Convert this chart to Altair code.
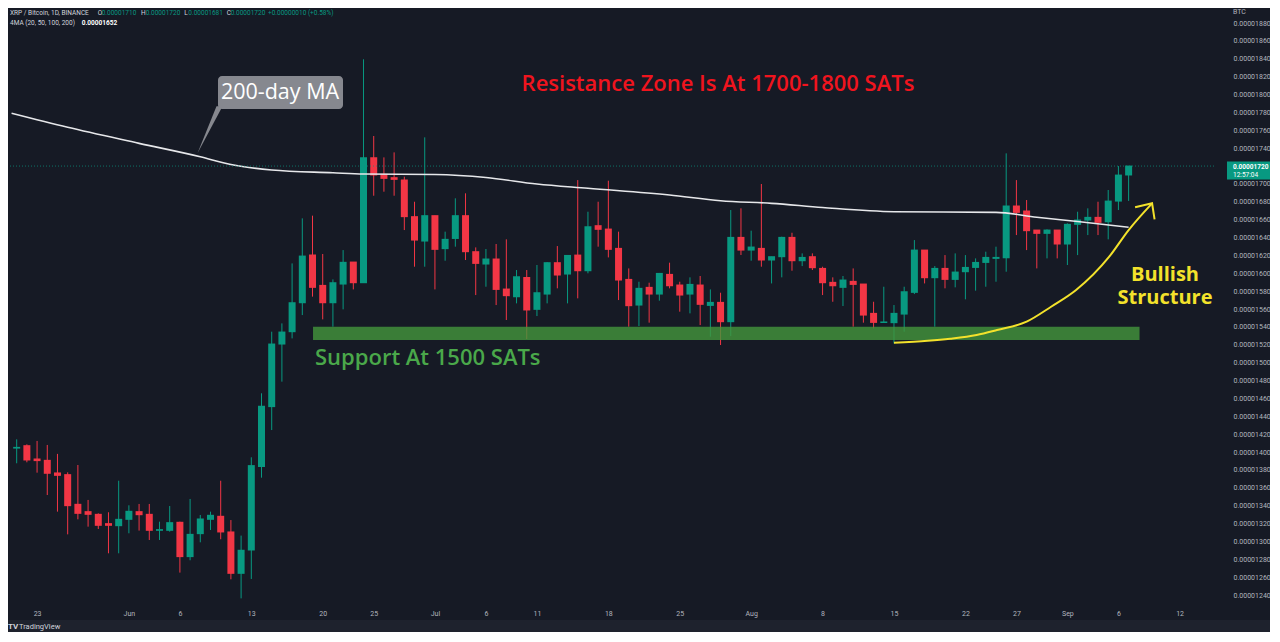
import altair as alt
import pandas as pd

# ---------------- data (sats = 1e-8 BTC) ----------------
START = "2022-05-21"

opens = [1404.5, 1407.2, 1392.3, 1390.8, 1376.7, 1374.8, 1341.6, 1333.4, 1330.4, 1320.0,
         1317.7, 1324.8, 1333.4, 1330.4, 1312.5, 1312.5, 1321.5, 1283.1, 1308.8, 1324.8,
         1328.2, 1310.7, 1264.4, 1290.5, 1383.8, 1450.9, 1520.9, 1534.7, 1567.1, 1620.5,
         1586.5, 1567.1, 1588.0, 1612.6, 1589.5, 1729.3, 1710.7, 1707.0, 1704.4, 1663.4,
         1636.1, 1664.5, 1627.6, 1639.0, 1664.5, 1624.2, 1610.4, 1616.0, 1582.4, 1573.9,
         1595.3, 1559.7, 1576.8, 1611.9, 1599.2, 1620.4, 1602.9, 1653.3, 1649.5, 1627.9,
         1593.2, 1564.5, 1584.3, 1576.8, 1598.8, 1586.9, 1576.8, 1586.9, 1564.1, 1567.5,
         1545.9, 1640.2, 1626.0, 1627.9, 1614.9, 1618.6, 1640.2, 1614.1, 1618.6, 1605.5,
         1589.9, 1584.3, 1591.0, 1588.0, 1555.2, 1545.0, 1544.8, 1554.4, 1578.7, 1626.0,
         1595.1, 1605.5, 1593.2, 1601.8, 1606.6, 1612.2, 1616.7, 1617.4, 1675.3, 1669.7,
         1648.4, 1644.7, 1648.4, 1632.8, 1654.8, 1659.6, 1662.6, 1657.7, 1680.8, 1710.0]

highs = [1414.3, 1408.7, 1412.5, 1408.0, 1398.0, 1377.4, 1385.6, 1346.5, 1331.5, 1332.7,
         1368.0, 1340.5, 1342.0, 1342.0, 1322.2, 1339.7, 1322.2, 1347.6, 1329.7, 1333.4,
         1368.0, 1324.0, 1306.6, 1394.2, 1465.8, 1534.7, 1544.0, 1611.1, 1661.5, 1664.5,
         1621.6, 1593.2, 1626.0, 1612.6, 1839.4, 1753.6, 1729.7, 1735.3, 1708.1, 1680.1,
         1752.1, 1664.5, 1646.6, 1683.9, 1689.5, 1629.0, 1627.2, 1632.8, 1638.0, 1603.7,
         1603.7, 1609.3, 1612.5, 1630.5, 1620.4, 1704.3, 1668.9, 1680.1, 1703.6, 1646.6,
         1605.5, 1590.6, 1589.5, 1600.4, 1611.9, 1590.6, 1595.5, 1597.0, 1582.0, 1578.3,
         1670.8, 1672.7, 1647.7, 1699.9, 1618.6, 1641.0, 1645.4, 1622.3, 1622.3, 1607.4,
         1595.5, 1597.0, 1605.5, 1588.0, 1568.2, 1585.0, 1564.5, 1585.0, 1637.2, 1626.0,
         1608.1, 1620.4, 1622.3, 1620.4, 1616.7, 1624.2, 1629.8, 1734.2, 1704.3, 1682.0,
         1648.4, 1649.2, 1648.4, 1655.9, 1668.9, 1672.7, 1680.1, 1693.2, 1720.0, 1720.0]

lows = [1387.5, 1388.6, 1377.0, 1352.0, 1333.4, 1308.0, 1324.8, 1316.6, 1314.0, 1286.8,
        1286.8, 1309.2, 1312.2, 1301.7, 1301.7, 1311.0, 1265.2, 1279.0, 1299.1, 1312.9,
        1302.5, 1257.7, 1236.4, 1258.1, 1371.4, 1424.7, 1478.8, 1527.2, 1553.3, 1573.9,
        1548.5, 1540.3, 1559.7, 1582.0, 1589.5, 1686.8, 1691.3, 1686.8, 1648.4, 1607.4,
        1607.4, 1582.0, 1614.1, 1629.8, 1614.9, 1575.7, 1585.0, 1564.5, 1547.8, 1566.4,
        1526.5, 1552.2, 1566.4, 1583.2, 1566.4, 1572.0, 1600.0, 1629.8, 1617.8, 1570.1,
        1540.3, 1541.0, 1544.8, 1569.4, 1583.2, 1557.1, 1555.2, 1542.1, 1529.1, 1519.8,
        1529.8, 1620.5, 1614.1, 1607.4, 1588.7, 1595.5, 1602.9, 1608.1, 1603.7, 1575.7,
        1568.2, 1563.4, 1540.3, 1544.8, 1538.4, 1544.8, 1521.6, 1534.7, 1576.8, 1588.7,
        1540.3, 1583.2, 1584.3, 1570.9, 1580.6, 1585.0, 1590.6, 1601.8, 1642.8, 1626.0,
        1605.5, 1616.7, 1616.7, 1609.3, 1620.4, 1642.8, 1642.8, 1638.0, 1670.8, 1681.0]

closes = [1405.3, 1391.2, 1390.5, 1376.3, 1374.0, 1340.1, 1331.5, 1330.4, 1318.1, 1318.1,
          1324.8, 1333.8, 1330.0, 1312.5, 1313.3, 1321.1, 1283.1, 1308.0, 1325.2, 1329.3,
          1310.7, 1264.4, 1290.2, 1384.9, 1451.2, 1520.9, 1534.3, 1567.1, 1619.3, 1584.3,
          1567.1, 1589.5, 1612.3, 1589.5, 1729.3, 1710.0, 1706.2, 1705.1, 1663.4, 1637.2,
          1664.5, 1626.8, 1638.0, 1664.5, 1624.2, 1611.1, 1616.0, 1582.0, 1575.0, 1596.2,
          1559.0, 1578.3, 1611.9, 1598.1, 1620.0, 1602.9, 1652.1, 1649.2, 1626.8, 1592.5,
          1563.8, 1583.2, 1576.8, 1599.9, 1586.1, 1575.7, 1587.6, 1565.3, 1567.5, 1545.9,
          1640.2, 1626.0, 1629.4, 1614.9, 1618.6, 1640.2, 1614.1, 1617.8, 1606.3, 1589.5,
          1586.1, 1592.5, 1587.6, 1553.3, 1545.1, 1545.6, 1555.2, 1579.4, 1626.0, 1595.1,
          1605.5, 1593.2, 1601.4, 1606.6, 1612.2, 1617.8, 1617.8, 1675.3, 1668.2, 1647.7,
          1644.7, 1648.4, 1632.8, 1654.8, 1659.6, 1662.6, 1657.0, 1680.8, 1709.9, 1720.0]

# 200-day MA, read at selected days (day offset from START)
ma_days = [-0.5, 5, 12, 18, 21, 25, 31, 34, 41, 46, 51, 56, 64, 69, 74, 79, 86, 96, 100, 104, 109]
ma_vals = [1779.0, 1763.3, 1745.4, 1730.4, 1721.7, 1715.6, 1712.5, 1711.1, 1710.5, 1707.2,
           1699.9, 1695.1, 1687.6, 1681.2, 1678.3, 1673.6, 1668.9, 1668.2, 1662.7, 1657.9, 1651.5]

# support zone (day offsets, prices)
zone_days = [29.05, 110.07]
zone_prices = [1525.4, 1540.3]

# hand-drawn "bullish structure" curve (day offsets, prices)
curve_days = [86.0, 89.3, 91.5, 94.1, 96.1, 99.0, 101.4, 103.85, 107.1, 109.0, 111.3]
curve_prices = [1522.4, 1524.6, 1526.9, 1531.0, 1536.6, 1545.9, 1562.6, 1581.3, 1618.6, 1648.4, 1678.3]

x_tick_dates = ["2022-05-23", "2022-06-01", "2022-06-06", "2022-06-13", "2022-06-20", "2022-06-25",
                "2022-07-01", "2022-07-06", "2022-07-11", "2022-07-18", "2022-07-25", "2022-08-01",
                "2022-08-08", "2022-08-15", "2022-08-22", "2022-08-27", "2022-09-01", "2022-09-06",
                "2022-09-12"]
y_ticks = [1240, 1260, 1280, 1300, 1320, 1340, 1360, 1380, 1400, 1420, 1440, 1460, 1480, 1500,
           1520, 1540, 1560, 1580, 1600, 1620, 1640, 1660, 1680, 1700, 1740, 1760, 1780,
           1800, 1820, 1840, 1860, 1880]

# ---------------- helpers ----------------
t0 = pd.Timestamp(START, tz="UTC")


def iso(days):
    return (t0 + pd.Timedelta(days=days)).strftime("%Y-%m-%dT%H:%M:%SZ")


def ms(days):
    return int((t0 + pd.Timedelta(days=days)).value // 10**6)


UP = "#089981"
DOWN = "#f23645"
YELLOW = "#f3e22b"
BG = "#161a25"
AXIS_TXT = "#b2b5be"

candles = pd.DataFrame({
    "date": [iso(i) for i in range(len(opens))],
    "open": opens, "high": highs, "low": lows, "close": closes,
})
ma_df = pd.DataFrame({"date": [iso(d) for d in ma_days], "ma": ma_vals})
zone_df = pd.DataFrame({"start": [iso(zone_days[0])], "end": [iso(zone_days[1])],
                        "lo": [zone_prices[0]], "hi": [zone_prices[1]]})
curve_df = pd.DataFrame({"date": [iso(d) for d in curve_days], "price": curve_prices})
last = candles.iloc[[-1]]
one = pd.DataFrame({"k": [0]})

x_scale = alt.Scale(type="utc", domain=[ms(-0.36), ms(116.88)])
y_scale = alt.Scale(domain=[1234.57, 1896.8], zero=False, nice=False)

x_axis = alt.Axis(
    values=[int(pd.Timestamp(d, tz="UTC").value // 10**6) for d in x_tick_dates],
    labelExpr="utcdate(datum.value) == 1 ? utcFormat(datum.value, '%b') : '' + utcdate(datum.value)",
    title=None, grid=False, ticks=False, domain=False, labelColor=AXIS_TXT,
    labelFontSize=7, labelFont="Roboto", labelPadding=9, labelFlush=False, labelOverlap=False,
)
y_axis = alt.Axis(
    orient="right", values=y_ticks, labelExpr="'0.0000' + datum.value",
    title=None, grid=False, ticks=False, domain=False, labelColor=AXIS_TXT,
    labelFontSize=7, labelFont="Roboto", labelPadding=19, labelOverlap=False, labelSeparation=0,
)

updown = alt.when("datum.close >= datum.open").then(alt.value(UP)).otherwise(alt.value(DOWN))

base = alt.Chart(candles).encode(x=alt.X("date:T", scale=x_scale, axis=x_axis))

wicks = base.mark_rule(strokeWidth=1).encode(
    y=alt.Y("low:Q", scale=y_scale, axis=y_axis), y2="high:Q", color=updown)

bodies = base.transform_calculate(
    lo="min(datum.open, datum.close)", hi="max(datum.open, datum.close)"
).mark_bar(size=7, yOffset=0.5, y2Offset=-0.5).encode(
    y=alt.Y("lo:Q", axis=y_axis), y2="hi:Q", color=updown)

ma_line = alt.Chart(ma_df).mark_line(color="#e6e7ea", strokeWidth=1.6, interpolate="monotone",
                                     clip=True).encode(
    x=alt.X("date:T", axis=x_axis), y=alt.Y("ma:Q", axis=y_axis))

price_line = alt.Chart(last).mark_rule(color=UP, strokeDash=[1, 2], strokeWidth=1, opacity=0.7).encode(
    y=alt.Y("close:Q", axis=y_axis))

zone = alt.Chart(zone_df).mark_rect(color="#43963c", opacity=0.8).encode(
    x=alt.X("start:T", axis=x_axis), x2="end:T", y=alt.Y("lo:Q", axis=y_axis), y2="hi:Q")

curve = alt.Chart(curve_df).mark_line(color=YELLOW, strokeWidth=2, interpolate="monotone").encode(
    x=alt.X("date:T", axis=x_axis), y=alt.Y("price:Q", axis=y_axis))

arrow = alt.Chart(curve_df.iloc[[-1]]).mark_point(
    shape="M -17 4 L 0 0 L 2.5 16", size=4, filled=False, color=YELLOW, strokeWidth=2, opacity=1
).encode(x=alt.X("date:T", axis=x_axis), y=alt.Y("price:Q", axis=y_axis))

# price tag on the right axis
tag_rect = alt.Chart(last).mark_rect(color=UP, yOffset=-4.5, y2Offset=13.5).encode(
    y=alt.Y("close:Q", axis=y_axis), y2="close:Q", x=alt.value(1219), x2=alt.value(1266))
tag_text = alt.Chart(last).transform_calculate(lbl="'0.0000' + datum.close").mark_text(
    color="white", fontSize=6.5, fontWeight="bold", align="left", baseline="middle", dy=0.5, font="Roboto"
).encode(y=alt.Y("close:Q", axis=y_axis), x=alt.value(1225), text="lbl:N")
tag_time = alt.Chart(last).mark_text(
    color="white", fontSize=6.5, align="left", baseline="middle", dy=8.5, font="Roboto", text="12:57:04"
).encode(y=alt.Y("close:Q", axis=y_axis), x=alt.value(1225))


def label(text, x, y, size, color, weight="normal", align="left", font="Roboto", baseline="middle",
          line_height=None):
    kw = dict(text=text, fontSize=size, color=color, fontWeight=weight, align=align,
              baseline=baseline, font=font)
    if line_height is not None:
        kw["lineHeight"] = line_height
    return alt.Chart(one).mark_text(**kw).encode(x=alt.value(x), y=alt.value(y))


# 200-day MA callout
callout_box = alt.Chart(one).mark_rect(color="#86888f", cornerRadius=4).encode(
    x=alt.value(210), x2=alt.value(335), y=alt.value(68), y2=alt.value(101))
callout_tip = alt.Chart(one).mark_point(
    shape="M 19 -47 L 25 -47 L 0 0 Z", size=4, filled=True, color="#86888f", opacity=1, strokeWidth=0
).encode(x=alt.value(189.5), y=alt.value(145.3))

texts = [
    label("200-day MA", 272, 85, 21.5, "#ffffff", font="Open Sans", align="center"),
    label("Resistance Zone Is At 1700-1800 SATs", 710, 76, 22, "#f0141e", weight=600,
          font="Open Sans", align="center"),
    label("Support At 1500 SATs", 307, 350, 22, "#4aa84a", weight=600, font="Open Sans"),
    label(["Bullish", "Structure"], 1157, 267, 20, YELLOW, weight="bold", font="Open Sans",
          align="center", line_height=23),
    # header
    label("XRP / Bitcoin, 1D, BINANCE", 2, 4.5, 6.5, "#d1d4dc"),
    label("O", 89.7, 4.5, 6.5, "#d1d4dc"), label("0.00001710", 93.7, 4.5, 6.5, UP),
    label("H", 133, 4.5, 6.5, "#d1d4dc"), label("0.00001720", 137.7, 4.5, 6.5, UP),
    label("L", 176.3, 4.5, 6.5, "#d1d4dc"), label("0.00001681", 180.3, 4.5, 6.5, UP),
    label("C", 218.7, 4.5, 6.5, "#d1d4dc"), label("0.00001720", 222.7, 4.5, 6.5, UP),
    label("+0.00000010 (+0.58%)", 260, 4.5, 6.5, UP),
    label("4MA (20, 50, 100, 200)", 2, 15, 6.5, "#d1d4dc"),
    label("0.00001652", 73.7, 15, 6.5, "#ffffff", weight="bold"),
    label("BTC", 1225, 4, 7, AXIS_TXT),
]

strip = alt.Chart(one).mark_rect(color="#1e222d").encode(
    x=alt.value(0), x2=alt.value(1262), y=alt.value(612), y2=alt.value(630))
logo = [
    label("TV", 0, 619, 8, "#d1d4dc", weight="bold"),
    label("TradingView", 11, 619, 7.5, "#d1d4dc"),
]

chart = alt.layer(
    wicks, bodies, ma_line, price_line, zone, curve, arrow,
    callout_box, callout_tip, *texts, strip, *logo, tag_rect, tag_text, tag_time,
).properties(
    width=1206, height=592, background=BG,
    padding={"left": 0, "top": 0, "right": 56, "bottom": 32},
    autosize=alt.AutoSizeParams(type="none"),
).configure_view(stroke=None).configure_axis(labelOverlap=False)

chart.save("out.html", embed_options={"renderer": "svg", "actions": False})
